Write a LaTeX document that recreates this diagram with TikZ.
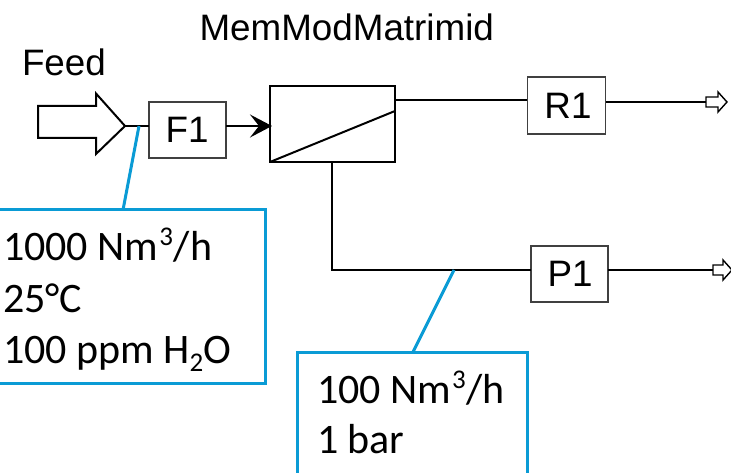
\documentclass[tikz,border=0pt]{standalone}
\usepackage{fontspec}
\setmainfont{Liberation Sans}
\newfontfamily\calibrifont{Carlito}
\usetikzlibrary{arrows.meta}
\definecolor{calloutblue}{HTML}{0A9BD5}
\definecolor{boxgrey}{HTML}{404040}
\tikzset{
  arial/.style={font=\fontsize{36.8}{40}\selectfont, inner sep=0pt, outer sep=0pt},
  unitbox/.style={draw=boxgrey, line width=1.2pt, fill=white, inner sep=0pt, outer sep=0pt},
  membox/.style={draw=black, line width=2pt, fill=white, inner sep=0pt, outer sep=0pt, minimum width=125pt, minimum height=76pt},
  callout/.style={draw=calloutblue, line width=3pt, fill=white, inner sep=0pt, outer sep=0pt},
  calltext/.style={font=\calibrifont\fontsize{42}{44}\selectfont, inner sep=0pt, outer sep=0pt, anchor=base west},
  pipe/.style={draw=black, line width=2pt},
  leader/.style={draw=calloutblue, line width=3pt},
  hollow/.style={draw=black, fill=white, line width=1.4pt, line join=miter}
}
\newcommand{\supthree}{\kern1pt\raisebox{15pt}{\fontsize{27}{27}\selectfont 3}\kern1pt}
\newcommand{\subtwo}{\raisebox{-8pt}{\fontsize{27}{27}\selectfont 2}}
\begin{document}
\begin{tikzpicture}[x=1pt,y=-1pt]
\useasboundingbox (0,0) rectangle (731,473);
\clip (0,0) rectangle (731,473);
% unit boxes
\node[unitbox, minimum width=77pt, minimum height=56pt] (F1) at (187.5,130) {};
\node[unitbox, minimum width=78pt, minimum height=57pt] (R1) at (566.5,105.5) {};
\node[unitbox, minimum width=77pt, minimum height=56pt] (P1) at (569.5,274) {};
\node[membox] (mem) at (332.5,124) {};
% free ends
\coordinate (feedtip) at (125,126);
\coordinate (Rout) at (706,102);
\coordinate (Pout) at (713,270);
\coordinate (Rin) at (527,100);
\coordinate (memR) at (395,100);
\coordinate (memP) at (332,162);
\coordinate (Pcorner) at (332,270);
\coordinate (Pin) at (531,270);
\coordinate (Fl) at (149,126);
\coordinate (Fr) at (226,126);
\coordinate (memin) at (272,126);
\coordinate (Roo) at (606,102);
\coordinate (Poo) at (608,270);
\coordinate (memSW) at (270,162);
\coordinate (memE) at (395,111);
\coordinate (tapA) at (139,126);
\coordinate (tapB) at (454,270);
% callouts
\node[callout, anchor=north west, minimum width=275pt, minimum height=173pt] (c1) at (-10,210) {};
\node[callout, anchor=north west, minimum width=230pt, minimum height=150pt] (c2) at (297,352) {};
\coordinate (c1top) at (123,210);
\coordinate (c2top) at (413,352);
% connectors
\draw[pipe] (feedtip) -- (Fl);
\draw[pipe, -{Stealth[length=22pt,width=23pt,inset=9pt]}] (Fr) -- (memin);
\draw[pipe] (memR) -- (Rin);
\draw[pipe] (Roo) -- (Rout);
\draw[pipe] (memP) -- (Pcorner) -- (Pin);
\draw[pipe] (Poo) -- (Pout);
\draw[line width=2pt] (memSW) -- (memE);
\draw[leader] (tapA) -- (c1top);
\draw[leader] (tapB) -- (c2top);
% hollow arrows
\draw[hollow, line width=2pt] (38,106) -- (96,106) -- (96,93.5) -- (feedtip) -- (96,154) -- (96,138) -- (38,138) -- cycle;
\draw[hollow] (Rout) ++(0,-5) -- ++(12,0) -- ++(0,-5) -- ++(9,10) -- ++(-9,10) -- ++(0,-5) -- ++(-12,0) -- cycle;
\draw[hollow] (Pout) ++(0,-5) -- ++(10,0) -- ++(0,-5) -- ++(9,10) -- ++(-9,10) -- ++(0,-5) -- ++(-10,0) -- cycle;
% labels
\node[arial, anchor=base west] (title) at (199.5,41) {MemModMatrimid};
\node[arial, anchor=base west] (feed) at (22,76) {Feed};
\node[arial, anchor=base] (F1t) at (187,143) {F1};
\node[arial, anchor=base] (R1t) at (568,119) {R1};
\node[arial, anchor=base] (P1t) at (570,287) {P1};
\node[calltext] (a1) at (3,261) {1000 Nm\supthree/h};
\node[calltext] (a2) at (3,312) {25°C};
\node[calltext] (a3) at (3,363) {100 ppm H\subtwo O};
\node[calltext] (b1) at (317,403) {100 Nm\supthree/h};
\node[calltext] (b2) at (317,453) {1 bar};
\end{tikzpicture}
\end{document}
